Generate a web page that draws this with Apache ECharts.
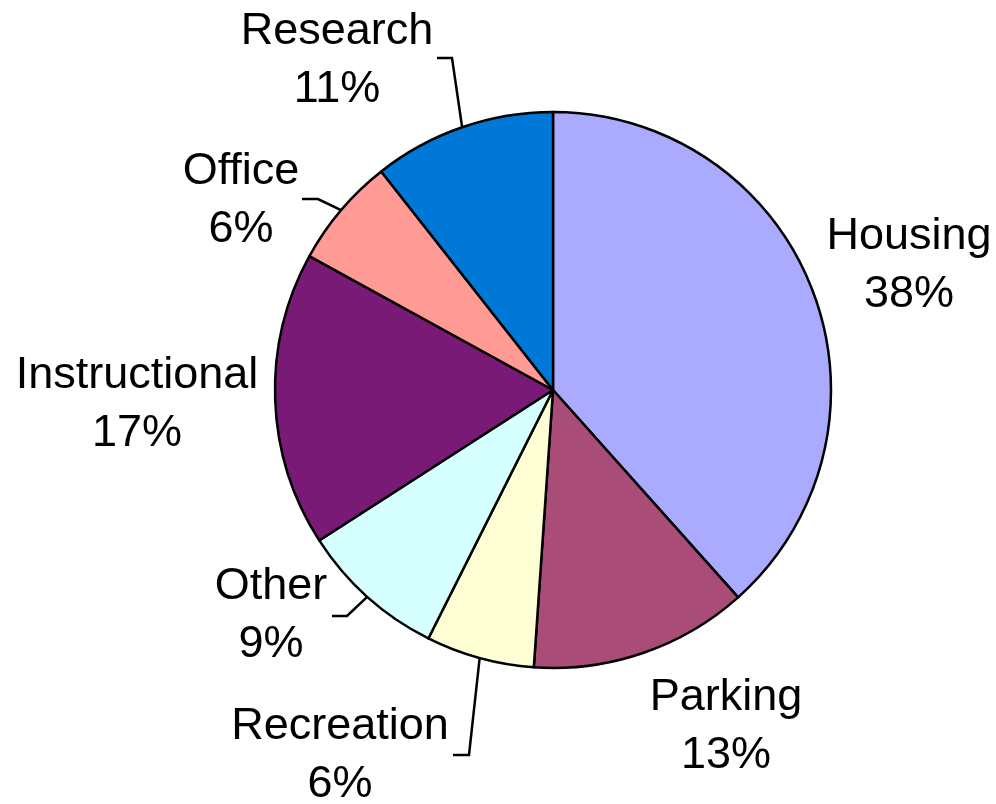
<!DOCTYPE html>
<html>
<head>
<meta charset="utf-8">
<script src="https://cdn.jsdelivr.net/npm/echarts@6/dist/echarts.min.js"></script>
<style>
html,body{margin:0;padding:0;background:#fff;}
#chart{width:996px;height:804px;}
</style>
</head>
<body>
<div id="chart"></div>
<script>
// Data (clockwise from 12 o'clock)
var categories = ['Housing', 'Parking', 'Recreation', 'Other', 'Instructional', 'Office', 'Research'];
var shares = [38.4, 12.7, 6.3, 8.5, 17.1, 6.4, 10.6];
var labelPercents = [38, 13, 6, 9, 17, 6, 11];

// Styles
var sliceColors = ['#AAAAFF', '#A94C77', '#FFFFD6', '#D6FFFF', '#7A1A77', '#FF9A94', '#0078D7'];
// label block centers [x, y]
var labelPos = [[909, 266], [726, 727], [340, 756], [271, 616], [137, 405], [241, 201], [337, 61]];
// leader line: bend point and end point (null = no line)
var leaderBend = [null, null, [469, 755], [347, 616], null, [318, 199], [452, 58]];
var leaderEnd  = [null, null, [453, 755], [332, 616], null, [302, 199], [437, 58]];

var cx = 553, cy = 390, R = 278;

var chart = echarts.init(document.getElementById('chart'));
var data = categories.map(function (c, i) {
  return {
    name: c,
    value: shares[i],
    itemStyle: { color: sliceColors[i] },
    labelLine: { show: leaderBend[i] !== null }
  };
});

chart.setOption({
  animation: false,
  backgroundColor: '#fff',
  series: [{
    type: 'pie',
    center: [cx, cy],
    radius: [0, R],
    startAngle: 90,
    clockwise: true,
    data: data,
    itemStyle: { borderColor: '#000', borderWidth: 2.5 },
    label: {
      show: true,
      position: 'outside',
      overflow: 'none',
      formatter: function (p) { return p.name + '\n' + labelPercents[p.dataIndex] + '%'; },
      fontFamily: 'Liberation Sans, Arial, sans-serif',
      fontSize: 45,
      lineHeight: 58,
      color: '#000',
      align: 'center',
      verticalAlign: 'middle'
    },
    labelLine: {
      show: true,
      smooth: false,
      lineStyle: { color: '#000', width: 2.5 }
    },
    labelLayout: function (params) {
      var i = params.dataIndex;
      var out = { x: labelPos[i][0], y: labelPos[i][1], align: 'center', verticalAlign: 'middle', width: 400 };
      if (leaderBend[i]) {
        var anchor = params.labelLinePoints && params.labelLinePoints[0];
        if (!anchor) {
          var total = shares.reduce(function (a, b) { return a + b; }, 0);
          var before = 0;
          for (var k = 0; k < i; k++) before += shares[k];
          var ang = (before + shares[i] / 2) / total * 2 * Math.PI;
          anchor = [cx + R * Math.sin(ang), cy - R * Math.cos(ang)];
        }
        out.labelLinePoints = [anchor, leaderBend[i], leaderEnd[i]];
      }
      return out;
    }
  }]
});
</script>
</body>
</html>
